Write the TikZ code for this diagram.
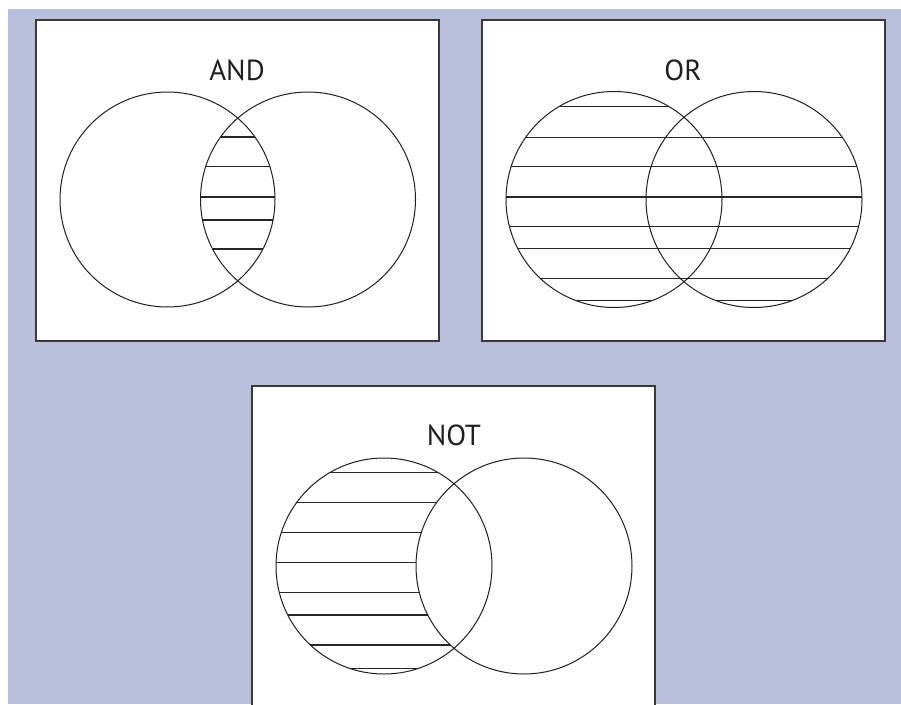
\documentclass[tikz,border=0pt]{standalone}
\usepackage{fontspec}
\setmainfont{PT Sans}
\definecolor{backblue}{RGB}{185,192,220}
\tikzstyle{panel}=[draw=black!78, line width=1.5pt, fill=white, inner sep=0pt, minimum width=403pt, minimum height=321pt]
\tikzstyle{ring}=[draw=black!88, line width=1pt]
\tikzstyle{hatch}=[draw=black!85, line width=1.2pt]
\tikzstyle{title}=[font=\fontsize{29}{35}\selectfont, text=black!88, inner sep=0pt, anchor=base]

\begin{document}
\begin{tikzpicture}[x=1pt, y=-1pt]
	\useasboundingbox (0,0) rectangle (901,704);
	\fill [backblue] (8,9) rectangle (901,704);
	% panels
	\node [style=panel] (andbox) at (237.5, 180.5) {};
	\node [style=panel] (orbox) at (683.5, 180.5) {};
	\node [style=panel] (notbox) at (453.5, 546.5) {};
	\node [style=title] (and) at (237, 80) {AND};
	\node [style=title] (or) at (683, 80) {OR};
	\node [style=title] (not) at (454, 445.5) {NOT};
	% AND: only the overlap
	\begin{scope}
		\clip (167.5, 199.5) circle (107.5pt);
		\clip (308, 199.5) circle (107.5pt);
		\foreach \y in {137, 166.7, 197, 220, 249}
			\draw [style=hatch] (190, \y) -- (290, \y);
	\end{scope}
	\draw [style=ring] (167.5, 199.5) circle (107.5pt);
	\draw [style=ring] (308, 199.5) circle (107.5pt);
	% OR: both circles
	\begin{scope}
		\clip (614, 199.5) circle (108pt);
		\foreach \y in {106.7, 137.3, 166.7, 197, 226.7, 248.7, 278.3, 300.7}
			\draw [style=hatch] (500, \y) -- (730, \y);
	\end{scope}
	\begin{scope}
		\clip (754, 199.5) circle (108pt);
		\foreach \y in {137.3, 166.7, 197, 226.7, 248.7, 278.3, 300.7}
			\draw [style=hatch] (640, \y) -- (870, \y);
	\end{scope}
	\draw [style=ring] (614, 199.5) circle (108pt);
	\draw [style=ring] (754, 199.5) circle (108pt);
	% NOT: left circle without the right one
	\begin{scope}[even odd rule]
		\clip (250, 380) rectangle (660, 710) (524, 566) circle (108pt);
		\clip (384, 566) circle (108pt);
		\foreach \y in {472.7, 502.7, 532.3, 562.7, 592.7, 615, 645, 668.3}
			\draw [style=hatch] (270, \y) -- (500, \y);
	\end{scope}
	\draw [style=ring] (384, 566) circle (108pt);
	\draw [style=ring] (524, 566) circle (108pt);
\end{tikzpicture}
\end{document}
